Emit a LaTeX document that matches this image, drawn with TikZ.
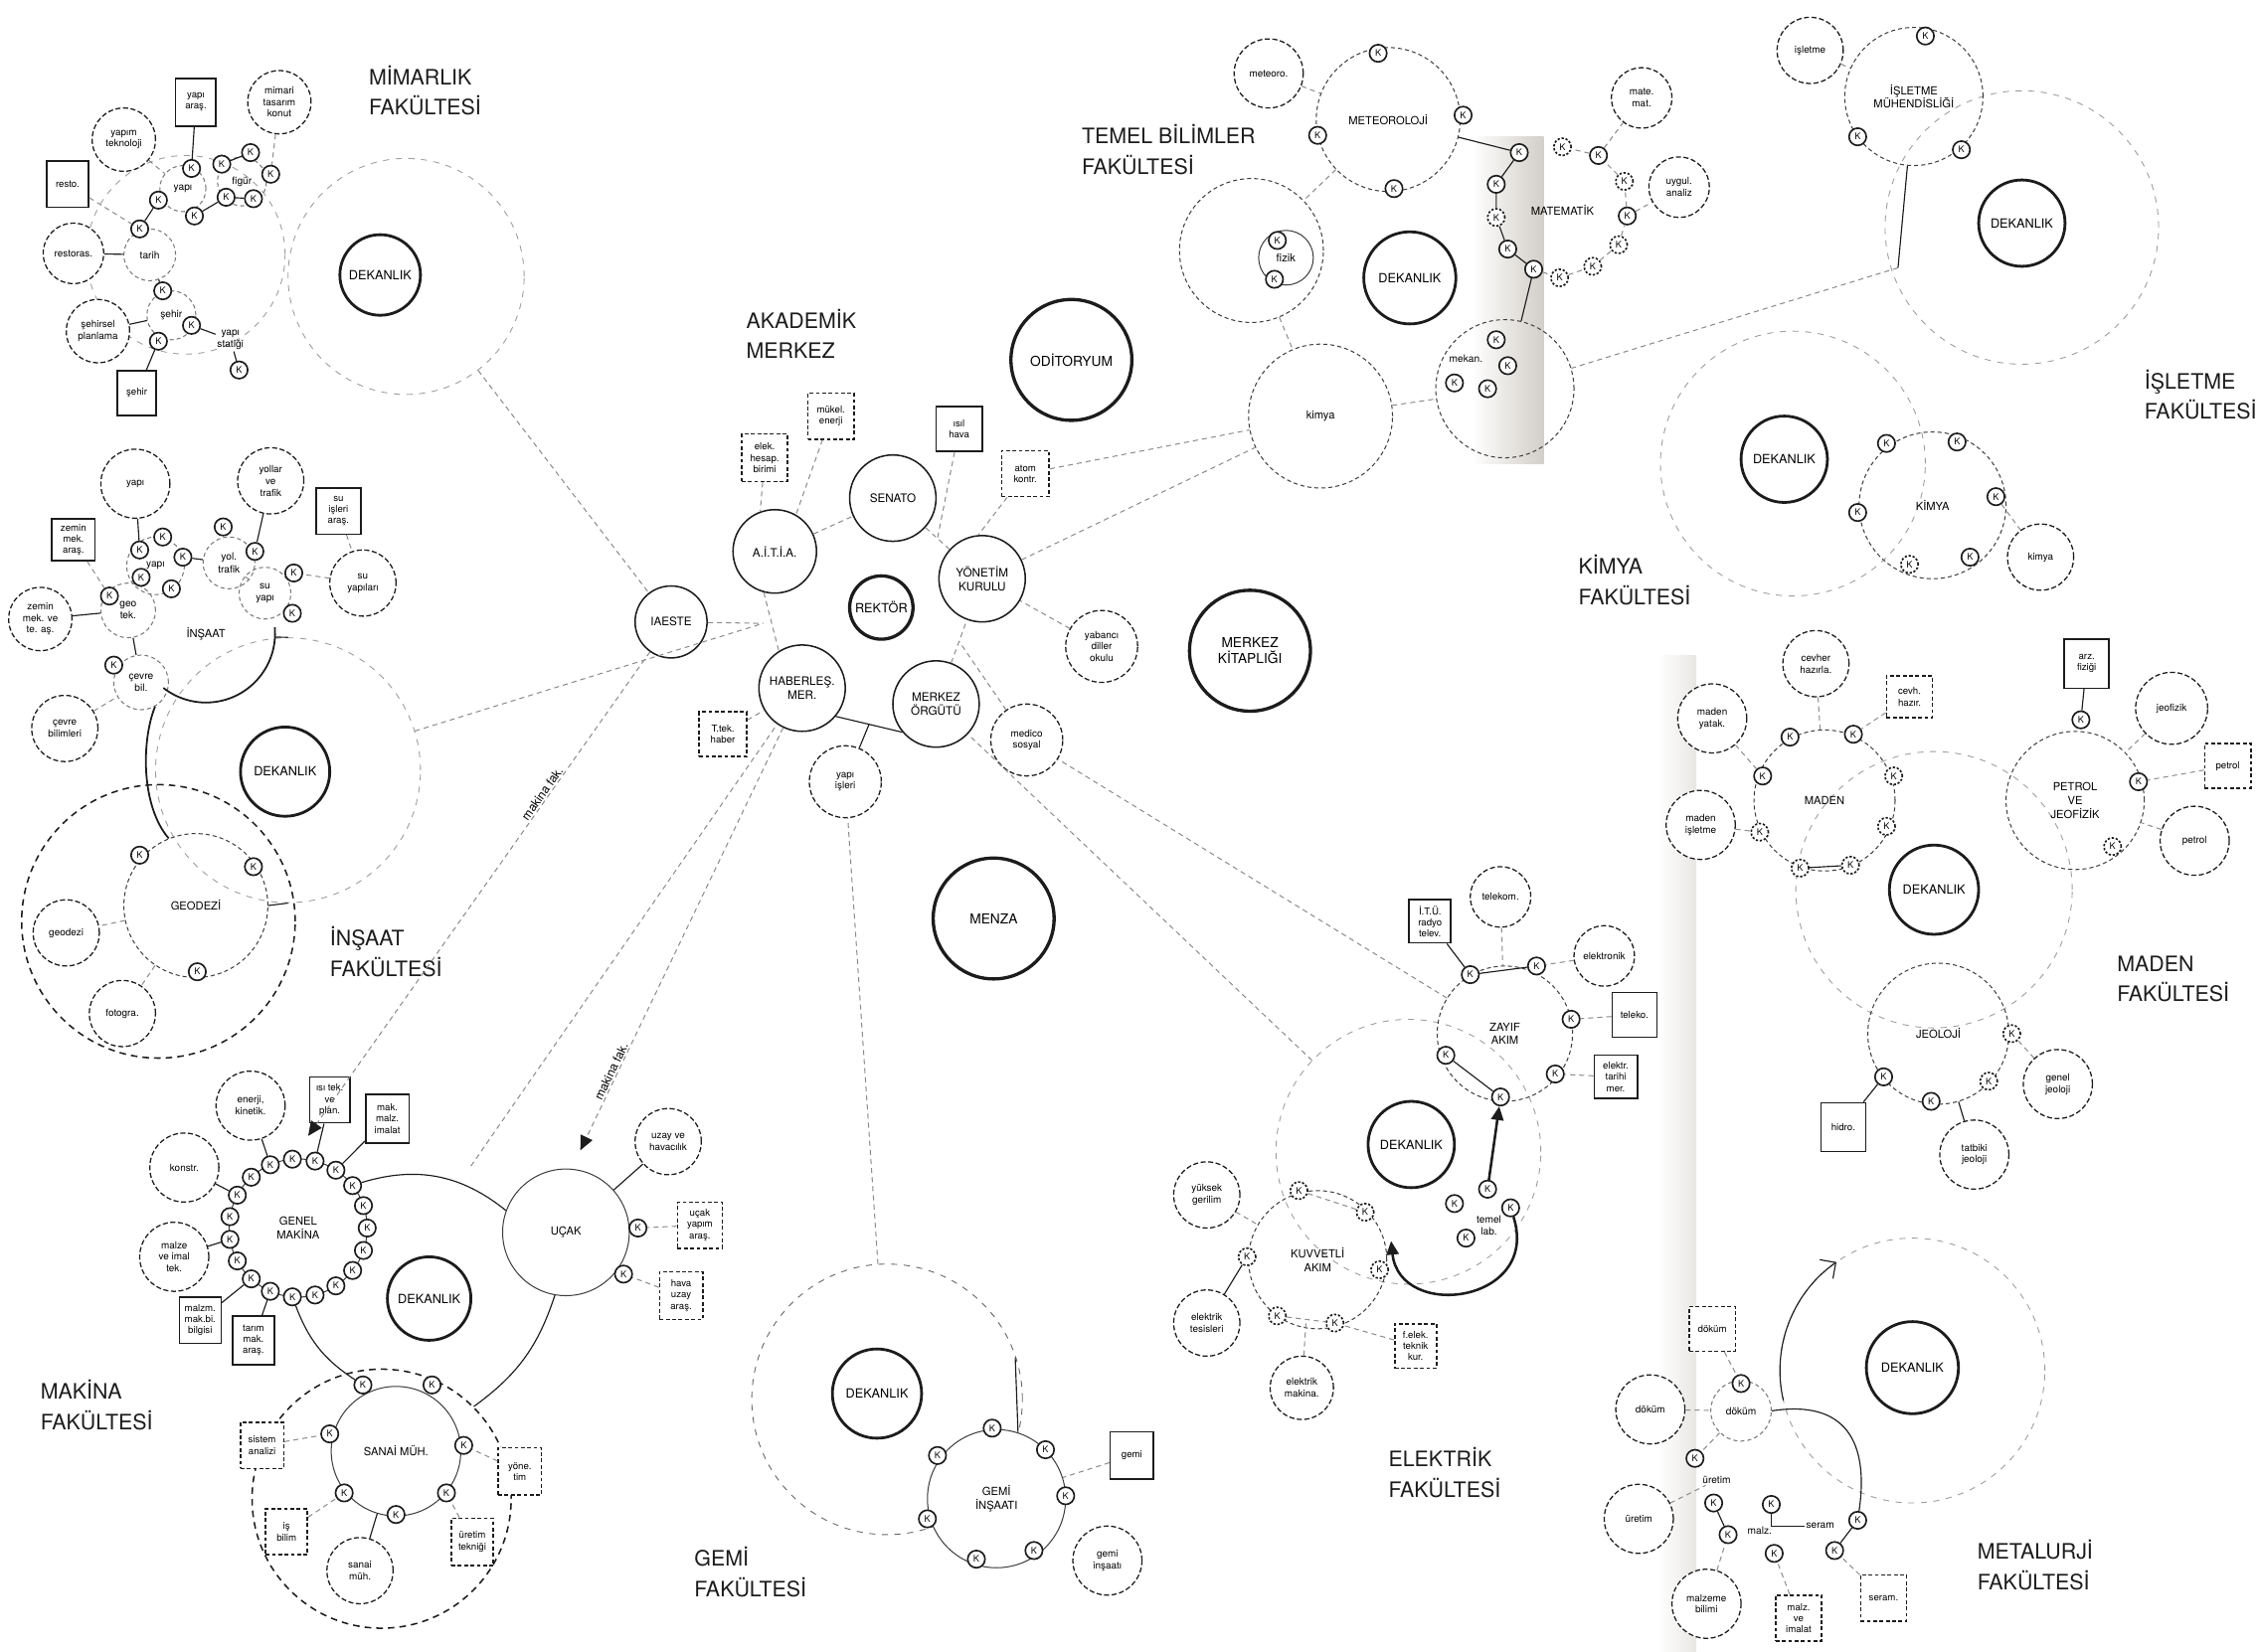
\documentclass[tikz,border=0pt]{standalone}
\usepackage{fontspec}
\setmainfont{TeX Gyre Heros}
\usetikzlibrary{arrows.meta,calc}
\definecolor{Ink}{HTML}{1C1C1C}
\definecolor{Faint}{HTML}{8C8C8C}
\definecolor{Fold}{HTML}{D2CEC8}
\tikzset{
  dekan/.style={circle, draw=Ink, fill=white, line width=1.1pt, minimum size=#1*0.04cm,
    inner sep=0pt, font=\fontsize{5}{6}\selectfont},
  hall/.style={dekan=#1, line width=1.3pt, align=center, font=\fontsize{5.4}{6.6}\selectfont},
  board/.style={circle, draw=Ink, fill=white, line width=0.6pt, minimum size=#1*0.04cm,
    inner sep=0pt, align=center, font=\fontsize{4.6}{5.6}\selectfont},
  unit/.style={circle, draw=Ink!85, line width=0.4pt, dash pattern=on 1.6pt off 1.2pt,
    minimum size=#1*0.04cm, inner sep=0pt, align=center, font=\fontsize{4.4}{5.4}\selectfont},
  cell/.style={unit=#1, draw=Ink!60, font=\fontsize{4}{4.8}\selectfont},
  zone/.style={circle, draw=Ink, line width=0.6pt, dash pattern=on 2.6pt off 2pt,
    minimum size=#1*0.04cm, inner sep=0pt},
  fac/.style={circle, draw=black!38, line width=0.35pt, dash pattern=on 2.4pt off 2.6pt,
    minimum size=#1*0.04cm, inner sep=0pt},
  sub/.style={circle, draw=Ink, fill=white, line width=0.5pt, dash pattern=on 2pt off 1pt,
    minimum size=#1*0.04cm, inner sep=0pt, align=center, font=\fontsize{3.9}{4.6}\selectfont},
  kay/.style={circle, draw=Ink, fill=white, line width=0.65pt, minimum size=0.24cm,
    inner sep=0pt, font=\fontsize{3.6}{3.6}\selectfont},
  kd/.style={kay, dash pattern=on 0.9pt off 0.7pt},
  sbox/.style 2 args={rectangle, draw=Ink, fill=white, line width=0.6pt,
    minimum width=#1*0.02cm, minimum height=#2*0.02cm, inner sep=0.4pt,
    align=center, font=\fontsize{3.8}{4.4}\selectfont},
  dbox/.style 2 args={sbox={#1}{#2}, dash pattern=on 1.5pt off 1pt},
  link/.style={draw=Ink, line width=0.45pt},
  dlink/.style={draw=Faint, line width=0.4pt, dash pattern=on 2pt off 1.6pt},
  flow/.style={draw=Ink, line width=1pt, -{Triangle[length=1.9mm,width=1.7mm]}},
  title/.style={anchor=west, align=left, text=Ink, font=\fontsize{8.4}{12}\selectfont},
  tag/.style={inner sep=0.5pt, align=center, font=\fontsize{4}{4.8}\selectfont}
}

\begin{document}
\begin{tikzpicture}[x=0.02cm, y=-0.02cm]
  \fill[white] (0,0) rectangle (1568,1147);
  \shade[left color=white, right color=Fold] (1022,95) rectangle (1072,322);
  \shade[left color=white, right color=Fold!50] (1152,455) rectangle (1178,1147);
  \useasboundingbox (0,0) rectangle (1568,1147);

  % mimarlik
  \node[fac=82] (mFak) at (282,192) {};
  \node[fac=69] (mIc) at (129,177) {};
  \node[dekan=28] (mDek) at (264,191) {DEKANLIK};
  \node[cell=16] (mYapi) at (127,131) {yapı};
  \node[cell=17] (mFig) at (168,126) {figür};
  \node[cell=18] (mTar) at (104,177) {tarih};
  \node[cell=17] (mSeh) at (119,219) {şehir};
  \node[tag] (mSta) at (160,236) {yapı\\statiği};
  \node[sbox={28}{33}] (mAras) at (136,71) {yapı\\araş.};
  \node[sub=22] (mTas) at (194,71) {mimari\\tasarım\\konut};
  \node[sub=22] (mTek) at (86,97) {yapım\\teknoloji};
  \node[sbox={29}{32}] (mResto) at (47,128) {resto.};
  \node[sub=21] (mRes) at (51,176) {restoras.};
  \node[sub=22] (mSpl) at (68,230) {şehirsel\\planlama};
  \node[sbox={27}{31}] (mSehb) at (95,273) {şehir};
  \foreach \x/\y [count=\i] in {133/117,110/139,135/150,154/114,174/106,188/121,157/137,
      176/138,97/159,113/202,133/226,110/237,166/257}
    \node[kay] (mk\i) at (\x,\y) {K};
  \draw[link] (mAras) -- (mk1);
  \draw[dlink] (mTas) -- (mk6);
  \draw[dlink] (mTek) -- (mYapi);
  \draw[dlink] (mResto) -- (mk9);
  \draw[link] (mRes) -- (mTar);
  \draw[link] (mSpl) -- (mSeh);
  \draw[link] (mSehb) -- (mk12);
  \draw[link] (mk2) -- (mk9);
  \draw[link] (mk3) -- (mk7) -- (mk8);
  \draw[link] (mk4) -- (mk5);
  \draw[link] (mk10) -- (mTar);
  \draw[link] (mk11) -- (mSta) -- (mk13);
  \node[title] (mTitle) at (250,63) {MİMARLIK\\FAKÜLTESİ};

  % insaat
  \node[fac=92] (iFak) at (200,535) {};
  \node[zone=95] (iGeoF) at (110,640) {};
  \node[dekan=31] (iDek) at (198,536) {DEKANLIK};
  \node[tag, font=\fontsize{4.4}{5.4}\selectfont] (iIns) at (143,440) {İNŞAAT};
  \node[unit=50] (iGeo) at (136,629) {GEODEZİ};
  \node[cell=20] (iYapi) at (108,393) {yapı};
  \node[cell=18] (iYol) at (159,391) {yol.\\trafik};
  \node[cell=18] (iSu) at (184,412) {su\\yapı};
  \node[cell=19] (iGt) at (89,424) {geo\\tek.};
  \node[cell=19] (iCb) at (98,474) {çevre\\bil.};
  \node[sub=24] (iYapC) at (94,336) {yapı};
  \node[sub=23] (iYtr) at (188,334) {yollar\\ve\\trafik};
  \node[sbox={31}{32}] (iSia) at (235,355) {su\\işleri\\araş.};
  \node[sub=23] (iSuy) at (252,405) {su\\yapıları};
  \node[sbox={30}{29}] (iZma) at (51,375) {zemin\\mek.\\araş.};
  \node[sub=22] (iZmt) at (28,430) {zemin\\mek. ve\\te. aş.};
  \node[sub=23] (iCbl) at (45,506) {çevre\\bilimleri};
  \node[sub=23] (iGdz) at (46,648) {geodezi};
  \node[sub=23] (iFot) at (85,704) {fotogra.};
  \foreach \x/\y [count=\i] in {97/382,113/373,127/387,98/401,119/409,155/366,177/383,
      204/398,203/426,76/414,79/462,97/594,176/602,137/675}
    \node[kay] (ik\i) at (\x,\y) {K};
  \draw[link, line width=0.7pt] ([shift={(5:0.96cm)}]iIns.center)
    arc[start angle=5, end angle=-128, radius=0.96cm];
  \draw[link] ([shift={(-3:0.96cm)}]iIns.center) -- (iFak.north);
  \draw[link] (iYapC) -- (ik1);
  \draw[link] (iYtr) -- (ik7);
  \draw[dlink] (iSia) -- (iSuy);
  \draw[dlink] (iSuy) -- (ik8);
  \draw[dlink] (iZma) -- (ik10);
  \draw[link] (iZmt) -- (iGt);
  \draw[dlink] (iCbl) -- (iCb);
  \draw[link] (ik3) -- (iYol);
  \draw[dlink] (iYol) -- (iSu);
  \draw[link] (iGt) -- (iCb);
  \draw[link, line width=0.7pt] (iCb.-60) .. controls (98,515) and (98,560) .. (iGeo.112);
  \draw[dlink] (iGeo) -- (iGdz);
  \draw[dlink] (iGeo) -- (iFot);
  \draw[link] (iGeo.east) -- (iFak.south);
  \node[title] (iTitle) at (223,661) {İNŞAAT\\FAKÜLTESİ};

  % akademik merkez
  \node[board=30] (aSen) at (620,346) {SENATO};
  \node[board=29] (aAit) at (538,383) {A.İ.T.İ.A.};
  \node[board=30] (aYon) at (682,402) {YÖNETİM\\KURULU};
  \node[dekan=22, line width=1.3pt] (aRek) at (612,422) {REKTÖR};
  \node[board=25] (aIae) at (466,432) {IAESTE};
  \node[board=30] (aHab) at (557,478) {HABERLEŞ.\\MER.};
  \node[board=30] (aMrk) at (650,489) {MERKEZ\\ÖRGÜTÜ};
  \node[dbox={32}{32}] (aMuk) at (577,289) {mükel.\\enerji};
  \node[dbox={32}{33}] (aElk) at (531,318) {elek.\\hesap.\\birimi};
  \node[sbox={32}{31}] (aIsi) at (666,298) {ısıl\\hava};
  \node[dbox={33}{32}] (aAtm) at (712,329) {atom\\kontr.};
  \node[dbox={33}{31}] (aTtk) at (502,510) {T.tek.\\haber};
  \node[sub=25] (aMed) at (713,514) {medico\\sosyal};
  \node[sub=25] (aYap) at (587,543) {yapı\\işleri};
  \node[sub=25] (aYab) at (765,449) {yabancı\\diller\\okulu};
  \node[hall=42] (aOdi) at (744,250) {ODİTORYUM};
  \node[hall=42] (aKit) at (868,452) {MERKEZ\\KİTAPLIĞI};
  \node[hall=42] (aMen) at (690,638) {MENZA};
  \coordinate (aJ) at (530,433);
  \draw[dlink] (aAit) -- (aSen);
  \draw[dlink] (aAit.255) -- (aHab.122);
  \draw[link] (aHab.-40) -- (aMrk.220);
  \draw[dlink] (aMrk) -- (aYon);
  \draw[dlink] (aYon) -- (aSen);
  \draw[dlink] (aIae) -- (aJ);
  \draw[dlink] (aMuk) -- (aAit.60);
  \draw[dlink] (aElk) -- (aAit.110);
  \draw[dlink] (aIsi) -- ($(aSen)!0.5!(aYon)$);
  \draw[dlink] (aAtm) -- (aYon.95);
  \draw[dlink] (aTtk) -- (aHab);
  \draw[link] (aYap) -- ($(aHab.-40)!0.5!(aMrk.220)$);
  \draw[dlink] (aMed) -- ($(aMrk)!0.5!(aYon)$);
  \draw[dlink] (aYab) -- (aYon.-30);
  \node[title] (aTitle) at (512,232) {AKADEMİK\\MERKEZ};

  % temel bilimler
  \node[unit=50] (tFiz) at (869,174) {};
  \node[unit=50] (tKim) at (917,289) {kimya};
  \node[unit=48] (tMek) at (1045,270) {};
  \node[sub=24] (tMet) at (881,51) {meteoro.};
  \node[unit=50] (tMeteo) at (964,83) {METEOROLOJİ};
  \node[unit=19, solid] (tFizi) at (893,179) {fizik};
  \node[dekan=32] (tDek) at (979,193) {DEKANLIK};
  \node[tag] (tMekl) at (1018,249) {mekan.};
  \node[tag, font=\fontsize{4.4}{5.4}\selectfont] (tMat) at (1085,146) {MATEMATİK};
  \node[sub=21] (tMate) at (1140,68) {mate.\\mat.};
  \node[sub=21] (tUyg) at (1166,130) {uygul.\\analiz};
  \foreach \x/\y/\s [count=\i] in {957/37/kay,1016/80/kay,915/94/kay,968/131/kay,
      887/167/kay,885/194/kay,1039/236/kay,1047/254/kay,1010/266/kay,1033/270/kay,
      1055/106/kay,1039/128/kay,1039/151/kd,1047/173/kay,1065/187/kay,1083/193/kd,
      1106/185/kd,1124/170/kd,1130/150/kay,1128/126/kd,1110/108/kay,1085/102/kd}
    \node[\s] (tk\i) at (\x,\y) {K};
  \draw[dlink] (tMet) -- (tMeteo);
  \draw[dlink] (tMeteo) -- (tFiz);
  \draw[link] (tMeteo) -- (tk11);
  \draw[link] (tk11) -- (tk12) -- (tk13) -- (tk14) -- (tk15);
  \draw[dlink] (tk15) -- (tk16) -- (tk17) -- (tk18) -- (tk19) -- (tk20) -- (tk21) -- (tk22);
  \draw[dlink] (tFiz) -- (tKim);
  \draw[dlink] (tKim) -- (tMek);
  \draw[link] (tMek) -- (tk15);
  \draw[dlink] (tk21) -- (tMate);
  \draw[dlink] (tk19) -- (tUyg);
  \node[title] (tTitle) at (745,104) {TEMEL BİLİMLER\\FAKÜLTESİ};

  % isletme
  \node[fac=95] (sFak) at (1404,158) {};
  \node[sub=23] (sIsl) at (1257,35) {işletme};
  \node[unit=48] (sMuh) at (1329,67) {İŞLETME\\MÜHENDİSLİĞİ};
  \node[dekan=30] (sDek) at (1404,155) {DEKANLIK};
  \foreach \x/\y [count=\i] in {1337/25,1290/95,1362/104}
    \node[kay] (sk\i) at (\x,\y) {K};
  \coordinate (sStem) at (1318,186);
  \draw[dlink] (sIsl) -- (sMuh);
  \draw[link] (sMuh) -- (sStem);
  \node[title] (sTitle) at (1483,274) {İŞLETME\\FAKÜLTESİ};

  % kimya
  \node[fac=92] (kFak) at (1245,322) {};
  \node[dekan=30] (kDek) at (1239,319) {DEKANLIK};
  \node[unit=51] (kKim) at (1342,351) {KİMYA};
  \node[sub=23] (kKimc) at (1417,387) {kimya};
  \foreach \x/\y/\s [count=\i] in {1310/308/kay,1359/307/kay,1386/345/kay,1290/356/kay,
      1368/387/kay,1326/392/kd}
    \node[\s] (kk\i) at (\x,\y) {K};
  \draw[dlink] (kk3) -- (kKimc);
  \node[title] (kTitle) at (1090,403) {KİMYA\\FAKÜLTESİ};

  % maden
  \node[fac=96] (dFak) at (1343,618) {};
  \node[dekan=31] (dDek) at (1343,618) {DEKANLIK};
  \node[unit=49] (dMad) at (1267,556) {MADEN};
  \node[unit=48] (dPet) at (1441,556) {PETROL\\VE\\JEOFİZİK};
  \node[unit=49] (dJeol) at (1346,718) {JEOLOJİ};
  \node[sub=23] (dCev) at (1261,461) {cevher\\hazırla.};
  \node[dbox={32}{29}] (dCvb) at (1326,484) {cevh.\\hazır.};
  \node[sub=24] (dYat) at (1189,499) {maden\\yatak.};
  \node[sub=24] (dIsl) at (1181,573) {maden\\işletme};
  \node[sbox={31}{34}] (dArz) at (1449,461) {arz.\\fiziği};
  \node[sub=25] (dJeo) at (1508,492) {jeofizik};
  \node[dbox={32}{31}] (dPtb) at (1547,532) {petrol};
  \node[sub=24] (dPtc) at (1524,584) {petrol};
  \node[sbox={31}{34}] (dHid) at (1280,783) {hidro.};
  \node[sub=24] (dTat) at (1371,802) {tatbiki\\jeoloji};
  \node[sub=24] (dGen) at (1429,753) {genel\\jeoloji};
  \foreach \x/\y/\s [count=\i] in {1243/512/kay,1287/510/kay,1224/539/kay,1315/539/kd,
      1222/578/kd,1310/574/kd,1250/603/kd,1285/601/kd,1445/500/kay,1485/543/kay,
      1467/588/kd,1397/718/kd,1308/748/kay,1341/765/kay,1381/751/kd}
    \node[\s] (dk\i) at (\x,\y) {K};
  \draw[dlink] (dCev) -- (dMad);
  \draw[dlink] (dCvb) -- (dk2);
  \draw[dlink] (dYat) -- (dk3);
  \draw[dlink] (dIsl) -- (dk5);
  \draw[link] (dk7) -- (dk8);
  \draw[link] (dArz) -- (dk9);
  \draw[dlink] (dJeo) -- (dPet);
  \draw[dlink] (dPtb) -- (dk10);
  \draw[dlink] (dPtc) -- (dPet);
  \draw[link] (dHid) -- (dk13);
  \draw[link] (dTat) -- (dJeol);
  \draw[dlink] (dGen) -- (dk12);
  \node[title] (dTitle) at (1464,680) {MADEN\\FAKÜLTESİ};

  % makina
  \node[zone=90] (nZone) at (265,1041) {};
  \node[dekan=29] (nDek) at (298,902) {DEKANLIK};
  \node[unit=48, solid] (nGen) at (207,853) {GENEL\\MAKİNA};
  \foreach \i in {1,...,19}
    \node[kay] (nk\i) at ([shift={(\i*18.947:0.96cm)}]nGen.center) {K};
  \node[unit=44, solid] (nUcak) at (393,856) {UÇAK};
  \node[unit=45, solid] (nSan) at (275,1008) {SANAİ MÜH.};
  \node[sub=24] (nEne) at (174,768) {enerji,\\kinetik.};
  \node[sbox={28}{32}] (nIsi) at (229,764) {ısı tek.\\ve\\plan.};
  \node[sbox={30}{34}] (nMak) at (269,777) {mak.\\malz.\\imalat};
  \node[sub=24] (nKon) at (128,811) {konstr.};
  \node[sub=24] (nImal) at (121,873) {malze\\ve imal\\tek.};
  \node[sbox={29}{32}] (nMlz) at (139,917) {malzm.\\mak.bi.\\bilgisi};
  \node[sbox={29}{34}] (nTar) at (176,931) {tarım\\mak.\\araş.};
  \node[sub=23] (nUzay) at (464,793) {uzay ve\\havacılık};
  \node[dbox={31}{32}] (nUy) at (486,851) {uçak\\yapım\\araş.};
  \node[dbox={30}{33}] (nHava) at (473,900) {hava\\uzay\\araş.};
  \node[dbox={30}{32}] (nSis) at (182,1004) {sistem\\analizi};
  \node[dbox={30}{33}] (nYon) at (361,1022) {yöne.\\tim};
  \node[dbox={29}{32}] (nIs) at (199,1064) {iş\\bilim};
  \node[dbox={29}{33}] (nUre) at (328,1071) {üretim\\tekniği};
  \node[sub=23] (nSmh) at (250,1091) {sanai\\müh.};
  \foreach \x/\y [count=\i] in {443/853,433/885}
    \node[kay] (nuk\i) at (\x,\y) {K};
  \foreach \x/\y [count=\i] in {252/962,300/962,229/996,322/1004,239/1037,310/1037,275/1052}
    \node[kay] (nsk\i) at (\x,\y) {K};
  \coordinate (nTop) at (327,810);
  \coordinate (nArr1) at (214,789);
  \coordinate (nArr2) at (403,799);
  \draw[link] (nEne) -- (nk6);
  \draw[link] (nIsi) -- (nk4);
  \draw[link] (nMak) -- (nk3);
  \draw[link] (nKon) -- (nk8);
  \draw[link] (nImal) -- (nk10);
  \draw[link] (nMlz) -- (nk12);
  \draw[link] (nTar) -- (nk13);
  \draw[link] (nk2) to[bend left=28] (nUcak.160);
  \draw[link] (nk14) to[bend right=18] (nsk1);
  \draw[link] (nUcak.-100) to[bend left=18] (nZone.45);
  \draw[link] (nUzay) -- (nUcak);
  \draw[dlink] (nUy) -- (nuk1);
  \draw[dlink] (nHava) -- (nuk2);
  \draw[dlink] (nSis) -- (nsk3);
  \draw[dlink] (nYon) -- (nsk4);
  \draw[dlink] (nIs) -- (nsk5);
  \draw[dlink] (nUre) -- (nsk6);
  \draw[link] (nSmh) -- (nSan);
  \node[title] (nTitle) at (22,976) {MAKİNA\\FAKÜLTESİ};

  % elektrik
  \node[fac=92] (eFak) at (978,800) {};
  \node[dekan=30] (eDek) at (980,795) {DEKANLIK};
  \node[unit=47] (eZay) at (1045,718) {ZAYIF\\AKIM};
  \node[unit=48] (eKuv) at (915,875) {KUVVETLİ\\AKIM};
  \node[tag] (eLab) at (1034,851) {temel\\lab.};
  \node[sub=21] (eTel) at (1042,623) {telekom.};
  \node[sbox={29}{30}] (eItu) at (993,640) {İ.T.Ü.\\radyo\\telev.};
  \node[sub=21] (eEln) at (1114,664) {elektronik};
  \node[sbox={31}{31}] (eTlk) at (1135,705) {teleko.};
  \node[sbox={30}{30}] (eTar) at (1122,748) {elektr.\\tarihi\\mer.};
  \node[sub=23] (eYuk) at (838,830) {yüksek\\gerilim};
  \node[sub=23] (eTes) at (838,919) {elektrik\\tesisleri};
  \node[sub=22] (eMak) at (904,964) {elektrik\\makina.};
  \node[dbox={29}{31}] (eFel) at (983,935) {f.elek.\\teknik\\kur.};
  \foreach \x/\y [count=\i] in {1021/677,1067/671,1091/708,1080/746,1004/733,1042/762}
    \node[kay] (ez\i) at (\x,\y) {K};
  \foreach \x/\y [count=\i] in {902/827,948/842,866/873,958/882,887/914,927/919}
    \node[kd] (eq\i) at (\x,\y) {K};
  \foreach \x/\y [count=\i] in {1033/826,1010/836,1049/839,1018/860}
    \node[kay] (et\i) at (\x,\y) {K};
  \coordinate (eArr) at (966,862);
  \draw[dlink] (eTel) -- (eZay);
  \draw[link] (ez1) -- (ez2);
  \draw[link] (eItu) -- (ez1);
  \draw[dlink] (eEln) -- (ez2);
  \draw[dlink] (eTlk) -- (ez3);
  \draw[dlink] (eTar) -- (ez4);
  \draw[link] (ez5) -- (ez6);
  \draw[dlink] (eYuk) -- (eKuv);
  \draw[link] (eTes) -- (eq3);
  \draw[dlink] (eq5) -- (eq6);
  \draw[dlink] (eq1) -- (eq2);
  \draw[dlink] (eMak) -- ($(eq5)!0.5!(eq6)$);
  \draw[dlink] (eFel) -- (eq6);
  \draw[flow] (et1) -- (ez6);
  \draw[flow] (et3) .. controls (1070,905) and (972,918) .. (eArr);
  \node[title] (eTitle) at (958,1023) {ELEKTRİK\\FAKÜLTESİ};

  % gemi
  \node[fac=94, draw=black!60] (gFak) at (616,972) {};
  \node[dekan=31] (gDek) at (609,968) {DEKANLIK};
  \node[unit=48, solid, fill=white] (gIns) at (692,1041) {GEMİ\\İNŞAATI};
  \node[sbox={30}{33}] (gGemb) at (786,1011) {gemi};
  \node[sub=24] (gGemc) at (769,1084) {gemi\\inşaatı};
  \foreach \x/\y [count=\i] in {689/992,726/1007,651/1011,740/1039,644/1055,718/1077,678/1083}
    \node[kay] (gk\i) at (\x,\y) {K};
  \coordinate (gUp) at (705,943);
  \draw[link] (gIns.72) -- (gUp);
  \draw[dlink] (gGemb) -- (gIns);
  \node[title] (gTitle) at (476,1092) {GEMİ\\FAKÜLTESİ};

  % metalurji
  \node[fac=92] (lFak) at (1328,952) {};
  \node[dekan=32] (lDek) at (1328,950) {DEKANLIK};
  \node[cell=21] (lDok) at (1209,980) {döküm};
  \node[tag] (lUre) at (1192,1028) {üretim};
  \node[tag] (lMalz) at (1222,1063) {malz.};
  \node[tag] (lSer) at (1264,1060) {seram};
  \node[dbox={32}{31}] (lDkb) at (1189,923) {döküm};
  \node[sub=24] (lDkc) at (1146,979) {döküm};
  \node[sub=24] (lUrc) at (1138,1055) {üretim};
  \node[sub=24] (lMbc) at (1185,1114) {malzeme\\bilimi};
  \node[dbox={32}{32}] (lMib) at (1249,1124) {malz.\\ve\\imalat};
  \node[dbox={32}{32}] (lSrb) at (1308,1110) {seram.};
  \foreach \x/\y [count=\i] in {1209/961,1177/1013,1190/1044,1230/1045,1200/1066,1232/1079}
    \node[kay] (lk\i) at (\x,\y) {K};
  \foreach \x/\y [count=\i] in {1290/1056,1274/1077}
    \node[kay] (ls\i) at (\x,\y) {K};
  \draw[link, -{Straight Barb[length=1.6mm]}] ([shift={(193:1.84cm)}]lFak.center)
    arc[start angle=193, end angle=125, radius=1.84cm];
  \draw[link] (lDok.east) .. controls (1282,972) and (1298,1002) .. (ls1);
  \draw[dlink] (lDkb) -- (lk1);
  \draw[dlink] (lDkc) -- (lDok);
  \draw[dlink] (lDok) -- (lk2);
  \draw[dlink] (lUrc) -- (lUre);
  \draw[link] (lk3) -- (lk5);
  \draw[link] (lk4.south) |- (lSer.west);
  \draw[dlink] (lMbc) -- (lk5);
  \draw[dlink] (lMib) -- (lk6);
  \draw[link] (ls1) -- (ls2);
  \draw[dlink] (lSrb) -- (ls2);
  \node[title] (lTitle) at (1367,1087) {METALURJİ\\FAKÜLTESİ};

  % links between faculties and the centre
  \draw[dlink] (mFak) -- (aIae);
  \draw[dlink] (iFak) -- (aJ);
  \draw[dlink] (nTop) -- (aHab);
  \draw[dlink, -{Triangle[length=2mm,width=1.8mm,color=Ink]}] (aIae) -- (nArr1)
    node[pos=0.3, sloped, above, tag, font=\fontsize{4.8}{5}\selectfont] {makina fak.};
  \draw[dlink, -{Triangle[length=2mm,width=1.8mm,color=Ink]}] (aHab) -- (nArr2)
    node[pos=0.82, sloped, above, tag, font=\fontsize{4.8}{5}\selectfont] {makina fak.};
  \draw[dlink] (gFak) -- (aYap);
  \draw[dlink] (eFak) -- (aMrk);
  \draw[dlink] (eZay) -- (aMed);
  \draw[dlink] (aAtm) -- (tKim);
  \draw[dlink] (aYon) -- (tKim);
  \draw[dlink] (sStem) -- (tMek);
\end{tikzpicture}
\end{document}
